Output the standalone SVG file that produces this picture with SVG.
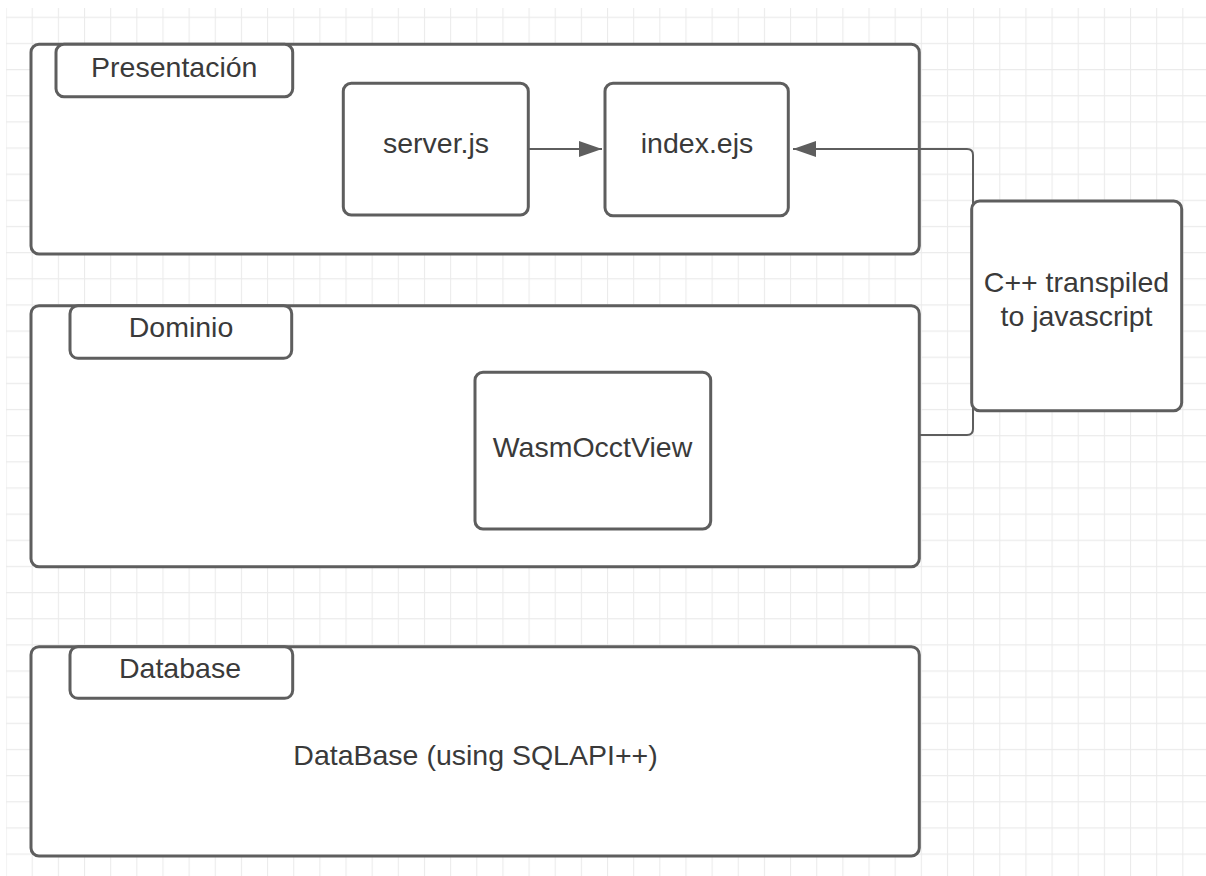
<svg xmlns="http://www.w3.org/2000/svg" width="1206" height="876" viewBox="0 0 1206 876">
  <style>
    .box { fill: #ffffff; stroke: #5e5e5e; stroke-width: 3; }
    .lbl { font-family: "Liberation Sans", Arial, sans-serif; font-size: 28.5px; fill: #3a3a3a; text-anchor: middle; }
    .conn { fill: none; stroke: #5e5e5e; stroke-width: 2; }
  </style>
  <defs>
    <pattern id="grid" patternUnits="userSpaceOnUse" x="5.55" y="-9.45" width="26.15" height="26.15">
      <path d="M0.5,0 V26.15 M0,0.5 H26.15" fill="none" stroke="#ebebeb" stroke-width="1.2"/>
    </pattern>
    <marker id="arrow" markerUnits="userSpaceOnUse" markerWidth="24" markerHeight="18" refX="23" refY="8" orient="auto">
      <path d="M0,0 L23,8 L0,16 Z" fill="#5e5e5e"/>
    </marker>
  </defs>
  <rect x="0" y="0" width="1206" height="876" fill="#ffffff"/>
  <rect x="6" y="8" width="1200" height="868" fill="url(#grid)"/>

  <g id="presentacion">
    <rect class="box" x="31" y="44.3" width="888.3" height="209.7" rx="8"/>
    <rect class="box" x="56" y="44.3" width="236.7" height="52.4" rx="8"/>
    <text class="lbl" x="174.3" y="77">Presentación</text>
  </g>
  <g id="dominio">
    <rect class="box" x="31" y="305.7" width="888.3" height="261" rx="8"/>
    <rect class="box" x="70" y="305.7" width="221.7" height="52.6" rx="8"/>
    <text class="lbl" x="181" y="337">Dominio</text>
  </g>
  <g id="database">
    <rect class="box" x="31" y="646.7" width="888.3" height="209.3" rx="8"/>
    <rect class="box" x="70" y="646.7" width="222.7" height="51.6" rx="8"/>
    <text class="lbl" x="180" y="678">Database</text>
    <text class="lbl" x="475.5" y="765">DataBase (using SQLAPI++)</text>
  </g>

  <g id="connectors">
    <path class="conn" d="M528.3,149 H602" marker-end="url(#arrow)"/>
    <path class="conn" d="M919.3,435 H967 Q973,435 973,429 V155 Q973,149 967,149 H793" marker-end="url(#arrow)"/>
  </g>

  <g id="server-js">
    <rect class="box" x="343.3" y="83.3" width="185" height="131.7" rx="8"/>
    <text class="lbl" x="436" y="153">server.js</text>
  </g>
  <g id="index-ejs">
    <rect class="box" x="605" y="83.3" width="183.3" height="132.4" rx="8"/>
    <text class="lbl" x="697" y="153">index.ejs</text>
  </g>
  <g id="wasmocctview">
    <rect class="box" x="475" y="372.3" width="235.7" height="156.7" rx="8"/>
    <text class="lbl" x="592.5" y="457">WasmOcctView</text>
  </g>
  <g id="cpp-transpiled">
    <rect class="box" x="971.7" y="201" width="210" height="209.7" rx="8"/>
    <text class="lbl" x="1076.5" y="292">C++ transpiled</text>
    <text class="lbl" x="1076.5" y="326">to javascript</text>
  </g>
</svg>
